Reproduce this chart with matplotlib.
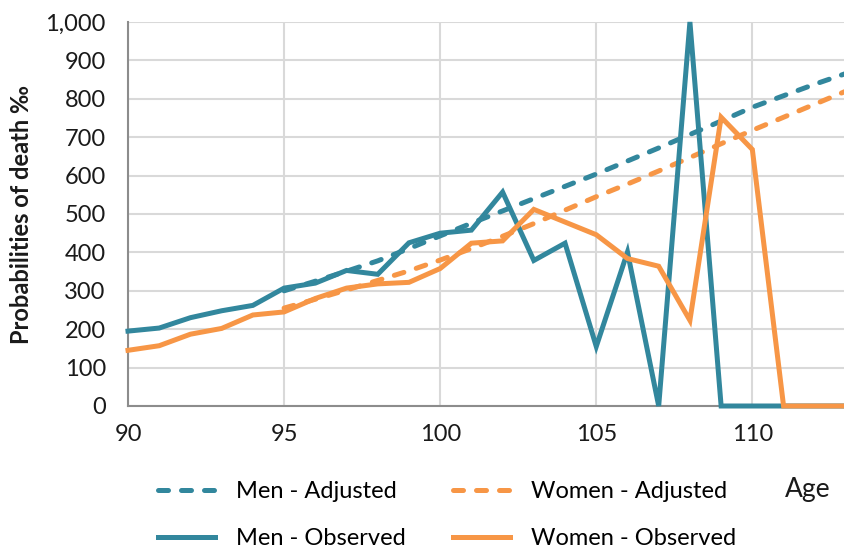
import matplotlib
matplotlib.use("Agg")
import matplotlib.pyplot as plt
from matplotlib.lines import Line2D

plt.rcParams['font.family'] = ['Lato', 'DejaVu Sans']

# ---- data ----
ages_obs = list(range(90, 114))
men_observed = [195, 203, 230, 248, 262, 307, 320, 353, 343, 425, 450, 458,
                557, 379, 424, 155, 401, 0, 1000, 0, 0, 0, 0, 0]
women_observed = [145, 157, 187, 202, 237, 245, 280, 307, 318, 322, 358, 424,
                  430, 512, 479, 446, 384, 364, 223, 752, 668, 0, 0, 0]
ages_adj = list(range(95, 114))
men_adjusted = [300, 325, 351, 378, 410, 443, 476, 508, 540, 572, 604, 638,
                672, 707, 742, 778, 808, 838, 866]
women_adjusted = [255, 278, 302, 327, 352, 380, 410, 442, 475, 510, 545, 578,
                  612, 647, 683, 718, 752, 786, 820]
x_ticks = [90, 95, 100, 105, 110]
y_ticks = [0, 100, 200, 300, 400, 500, 600, 700, 800, 900, 1000]
y_ticklabels = ['0', '100', '200', '300', '400', '500', '600', '700', '800', '900', '1,000']

BLUE = '#32879D'
ORANGE = '#F79646'
FS = 17

W, H = 844, 554
fig = plt.figure(figsize=(W / 100, H / 100), dpi=100)
ax = fig.add_axes([128 / W, (H - 406) / H, 718 / W, 384 / H])

lw = 3.6
l1, = ax.plot(ages_adj, men_adjusted, color=BLUE, lw=lw, dash_capstyle='round', zorder=3)
l1.set_dashes([2.0, 2.6])
l2, = ax.plot(ages_adj, women_adjusted, color=ORANGE, lw=lw, dash_capstyle='round', zorder=3)
l2.set_dashes([2.0, 2.6])
l3, = ax.plot(ages_obs, men_observed, color=BLUE, lw=lw, zorder=4, clip_on=False,
              solid_joinstyle='miter')
l4, = ax.plot(ages_obs, women_observed, color=ORANGE, lw=lw, zorder=5, clip_on=False,
              solid_joinstyle='miter')

ax.set_xlim(90, 113)
ax.set_ylim(0, 1000)
ax.set_xticks(x_ticks)
ax.set_yticks(y_ticks)
ax.set_yticklabels(y_ticklabels)
ax.tick_params(axis='both', length=0, labelsize=FS, colors='#1a1a1a')
ax.tick_params(axis='x', pad=13)
ax.tick_params(axis='y', pad=16)
ax.grid(True, color='#d9d9d9', lw=1.5)
ax.set_axisbelow(True)
for s in ['top', 'right']:
    ax.spines[s].set_visible(False)
for s in ['left', 'bottom']:
    ax.spines[s].set_color('#8c8c8c')
    ax.spines[s].set_linewidth(1.5)

fig.text(22 / W, (H - 214) / H, 'Probabilities of death ‰', rotation=90,
         ha='center', va='center', fontsize=FS, fontweight='bold', color='#1a1a1a')

h1 = Line2D([], [], color=BLUE, lw=lw, dash_capstyle='round')
h1.set_dashes([2.0, 2.6])
h2 = Line2D([], [], color=ORANGE, lw=lw, dash_capstyle='round')
h2.set_dashes([2.0, 2.6])
h3 = Line2D([], [], color=BLUE, lw=lw)
h4 = Line2D([], [], color=ORANGE, lw=lw)
fig.legend([h1, h3, h2, h4],
           ['Men - Adjusted', 'Men - Observed', 'Women - Adjusted', 'Women - Observed'],
           ncol=2, loc='center left', bbox_to_anchor=(158 / W, (H - 515) / H), frameon=False,
           fontsize=FS, handlelength=2.4, handletextpad=0.9, columnspacing=2.0,
           labelspacing=1.12, borderpad=0, borderaxespad=0)

fig.text(808 / W, (H - 490) / H, 'Age', ha='center', va='center', fontsize=FS + 2,
         color='#1a1a1a')

fig.savefig('out.png', dpi=100)
